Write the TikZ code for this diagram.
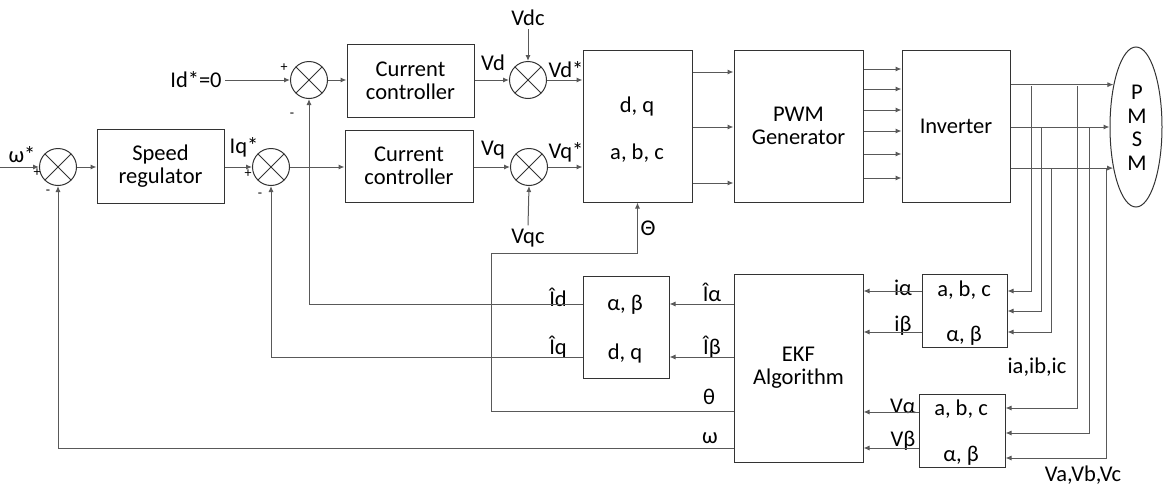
\documentclass[tikz,border=0pt]{standalone}
\usepackage{fontspec}
\setmainfont{Carlito}
\usetikzlibrary{arrows.meta,shapes.geometric}
\begin{document}
\begin{tikzpicture}[x=1pt,y=-1pt,
  every node/.style={font=\fontsize{22.5}{23}\selectfont},
  blk/.style={draw=black!80,line width=1pt,inner sep=0pt},
  sumc/.style={circle,draw=black!80,line width=1pt,minimum size=37pt,inner sep=0pt,
    path picture={\draw[black!80,line width=1pt]
      (path picture bounding box.north west) -- (path picture bounding box.south east)
      (path picture bounding box.north east) -- (path picture bounding box.south west);}},
  ln/.style={draw=black!65,line width=1pt},
  arr/.style={ln,-{Latex[length=6pt,width=5pt]}},
  sgn/.style={font=\fontsize{14}{14}\selectfont,inner sep=0pt},
  lbl/.style={inner sep=1pt},
  ]
\useasboundingbox (0,0) rectangle (1163,485);

% ---- blocks ----
\node[blk,minimum width=127pt,minimum height=74pt,align=center] (speed) at (160.5,166) {Speed\\regulator};
\node[blk,minimum width=127pt,minimum height=73pt,align=center] (cc1) at (410.5,80.5) {Current\\controller};
\node[blk,minimum width=128pt,minimum height=72pt,align=center] (cc2) at (409,166) {Current\\controller};
\node[blk,minimum width=109pt,minimum height=152pt] (dq) at (637.5,126) {};
\node[lbl] (dqt1) at (637,106) {d, q};
\node[lbl] (dqt2) at (637,153) {a, b, c};
\node[blk,minimum width=129pt,minimum height=152pt,align=center] (pwm) at (798.5,126) {PWM\\Generator};
\node[blk,minimum width=108pt,minimum height=152pt] (inv) at (956,126) {Inverter};
\node[ellipse,draw=black!80,line width=1pt,minimum width=52pt,minimum height=160pt,inner sep=0pt] (pmsm) at (1136,127) {};
\node[lbl] (pm1) at (1137,92) {P};
\node[lbl] (pm2) at (1137,116) {M};
\node[lbl] (pm3) at (1137,139) {S};
\node[lbl] (pm4) at (1137,163) {M};

\node[blk,minimum width=86pt,minimum height=102pt] (ab) at (626,327) {};
\node[lbl] (abt1) at (625,305) {α, β};
\node[lbl] (abt2) at (625,353) {d, q};
\node[blk,minimum width=129pt,minimum height=188pt,align=center] (ekf) at (798.5,368) {EKF\\Algorithm};
\node[blk,minimum width=85pt,minimum height=73pt] (abc1) at (964.5,310.5) {};
\node[lbl] (abc1t1) at (964,290) {a, b, c};
\node[lbl] (abc1t2) at (964,336) {α, β};
\node[blk,minimum width=86pt,minimum height=73pt] (abc2) at (962,430.5) {};
\node[lbl] (abc2t1) at (961,409) {a, b, c};
\node[lbl] (abc2t2) at (961,456) {α, β};

% ---- summing junctions ----
\node[sumc] (s1) at (58,167) {};
\node[sumc] (s2) at (271,167) {};
\node[sumc] (sd) at (309,80) {};
\node[sumc] (svd) at (528,80) {};
\node[sumc] (svq) at (529,167) {};

% ---- labels ----
\node[lbl] (wref) at (22,155) {ω*};
\node[sgn] at (37,173) {+};
\node[sgn] at (48,192) {-};
\node[lbl] (iqref) at (244,147) {Iq*};
\node[sgn] at (248,174) {+};
\node[sgn] at (260,195) {-};
\node (idref) at (196,80) {Id*=0};
\node[sgn] at (284,68) {+};
\node[sgn] at (292,115) {-};
\node (vdc) at (528,18) {Vdc};
\node (vqc) at (528,238) {Vqc};
\node[lbl] at (493,63) {Vd};
\node[lbl] at (493,150) {Vq};
\node[lbl] at (566,70) {Vd*};
\node[lbl] at (566,152) {Vq*};
\node[lbl] at (648,228) {Θ};
\node[lbl] at (903,288) {iα};
\node[lbl] at (903,326) {iβ};
\node[lbl] at (903,406) {Vα};
\node[lbl] at (903,441) {Vβ};
\node[lbl] at (712,292) {Îα};
\node[lbl] at (712,347) {Îβ};
\node[lbl] at (709,397) {θ};
\node[lbl] at (710,438) {ω};
\node[lbl] at (558,297) {Îd};
\node[lbl] at (558,347) {Îq};
\node[lbl] at (1037,367) {ia,ib,ic};
\node[lbl] at (1083,475) {Va,Vb,Vc};

% ---- forward path ----
\coordinate (win) at (0,167);
\draw[arr] (win) -- (s1.west);
\draw[arr] (s1.east) -- (speed.west |- s1.east);
\draw[arr] (speed.east |- s2.west) -- (s2.west);
\draw[arr] (s2.east) -- (cc2.west |- s2.east);
\draw[arr] (idref.east) -- (sd.west);
\draw[arr] (sd.east) -- (cc1.west |- sd.east);
\draw[arr] (cc1.east |- svd.west) -- (svd.west);
\draw[arr] (svd.east) -- (dq.west |- svd.east);
\draw[arr] (vdc.south) -- (svd.north);
\draw[arr] (cc2.east |- svq.west) -- (svq.west);
\draw[arr] (svq.east) -- (dq.west |- svq.east);
\draw[arr] (vqc.north) -- (svq.south);

\foreach \y in {72,127,183} \draw[arr] (dq.east |- 0,\y) -- (pwm.west |- 0,\y);
\foreach \y in {69,89,110,131,154,178} \draw[arr] (pwm.east |- 0,\y) -- (inv.west |- 0,\y);

\draw[arr] (inv.east |- pmsm.118.5) -- (pmsm.118.5);
\draw[arr] (inv.east |- pmsm.west) -- (pmsm.west);
\draw[arr] (inv.east |- pmsm.241.5) -- (pmsm.241.5);

% ---- measurement taps ----
\draw[arr] (1031,86) |- (abc1.east |- 0,291);
\draw[arr] (1041,127) |- (abc1.east |- 0,311);
\draw[arr] (1051,168) |- (abc1.east |- 0,332);
\draw[arr] (1077,86) |- (abc2.east |- 0,408);
\draw[arr] (1089,127) |- (abc2.east |- 0,433);
\draw[arr] (1106,168) |- (abc2.east |- 0,458);

% ---- transforms to EKF ----
\draw[arr] (abc1.west |- 0,291) -- (ekf.east |- 0,291);
\draw[arr] (abc1.west |- 0,332) -- (ekf.east |- 0,332);
\draw[arr] (abc2.west |- 0,412) -- (ekf.east |- 0,412);
\draw[arr] (abc2.west |- 0,448) -- (ekf.east |- 0,448);

% ---- EKF outputs ----
\draw[arr] (ekf.west |- 0,304) -- (ab.east |- 0,304);
\draw[arr] (ekf.west |- 0,357) -- (ab.east |- 0,357);
\draw[arr] (ab.west |- 0,304) -| (sd.south);
\draw[arr] (ab.west |- 0,357) -| (s2.south);
\draw[arr] (ekf.west |- 0,448) -| (s1.south);
\draw[arr] (ekf.west |- 0,411) -| (491,253) -| (dq.south);
\end{tikzpicture}
\end{document}
